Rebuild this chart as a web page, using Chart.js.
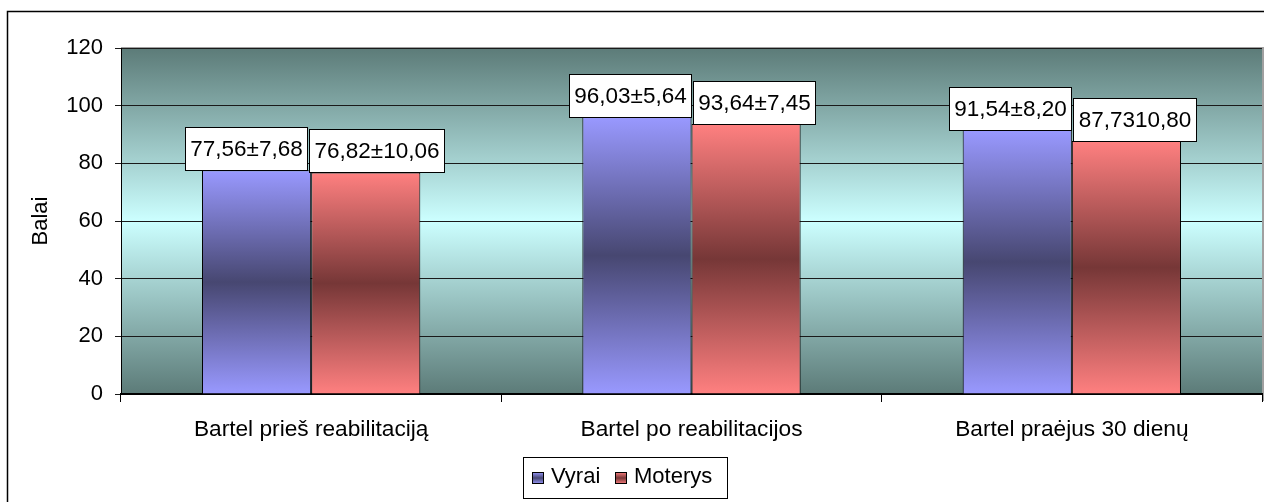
<!DOCTYPE html>
<html>
<head>
<meta charset="utf-8">
<script src="https://cdn.jsdelivr.net/npm/chart.js@4/dist/chart.umd.min.js"></script>
<style>
  html, body { margin: 0; padding: 0; background: #fff; }
  #wrap { width: 1264px; height: 502px; }
</style>
</head>
<body>
<div id="wrap"><canvas id="c" width="1264" height="502"></canvas></div>
<script>
// Barthel index scores (mean and standard deviation) by sex
const categories = ['Bartel prieš reabilitaciją', 'Bartel po reabilitacijos', 'Bartel praėjus 30 dienų'];
const seriesNames = ['Vyrai', 'Moterys'];
const vyraiMean = [77.56, 96.03, 91.54];
const vyraiSd = [7.68, 5.64, 8.20];
const moterysMean = [76.82, 93.64, 87.73];
const moterysSd = [10.06, 7.45, 10.80];
// separator printed between mean and SD in each value label
const vyraiSep = ['±', '±', '±'];
const moterysSep = ['±', '±', ''];
const yTicks = [0, 20, 40, 60, 80, 100, 120];

const FONT = '"Liberation Sans", Arial, sans-serif';
const fmt = v => v.toFixed(2).replace('.', ',');
const vyraiLabels = vyraiMean.map((m, i) => fmt(m) + vyraiSep[i] + fmt(vyraiSd[i]));
const moterysLabels = moterysMean.map((m, i) => fmt(m) + moterysSep[i] + fmt(moterysSd[i]));

// colour stops: [edge, centre] for each series
const palette = [
  { edge: '#9999ff', mid: '#474771' },
  { edge: '#ff8080', mid: '#763737' }
];

function barGradient(ctx, idx) {
  const chart = ctx.chart;
  const y = chart.scales && chart.scales.y;
  if (!y || !chart.chartArea || ctx.raw === undefined) return palette[idx].edge;
  const top = y.getPixelForValue(ctx.raw);
  const base = y.getPixelForValue(0);
  if (!isFinite(top) || !isFinite(base) || base === top) return palette[idx].edge;
  const g = chart.ctx.createLinearGradient(0, top, 0, base);
  g.addColorStop(0, palette[idx].edge);
  g.addColorStop(0.5, palette[idx].mid);
  g.addColorStop(1, palette[idx].edge);
  return g;
}

const framePlugin = {
  id: 'frame',
  beforeDraw(chart) {
    const { ctx, chartArea: a } = chart;
    ctx.save();
    ctx.fillStyle = '#ffffff';
    ctx.fillRect(0, 0, chart.width, chart.height);
    // plot wall with axial gradient
    const g = ctx.createLinearGradient(0, a.top, 0, a.bottom);
    g.addColorStop(0, '#5c7b78');
    g.addColorStop(0.5, '#ccffff');
    g.addColorStop(1, '#5c7b78');
    ctx.fillStyle = g;
    ctx.fillRect(a.left, a.top, a.right - a.left, a.bottom - a.top);
    // wall shadow
    ctx.fillStyle = '#a0a0a0';
    ctx.fillRect(a.left, a.top - 1, a.right - a.left, 1);
    ctx.fillRect(a.right, a.top - 1, 2, a.bottom - a.top + 8);
    ctx.restore();
  },
  afterDraw(chart) {
    const { ctx } = chart;
    ctx.save();
    // outer chart frame
    ctx.strokeStyle = '#000';
    ctx.lineWidth = 1.5;
    ctx.beginPath();
    ctx.moveTo(7.5, chart.height + 2);
    ctx.lineTo(7.5, 11.5);
    ctx.lineTo(chart.width + 2, 11.5);
    ctx.stroke();

    // legend
    const lx = 523.5, ly = 457.5, lw = 204, lh = 41;
    ctx.fillStyle = '#fff';
    ctx.fillRect(lx, ly, lw, lh);
    ctx.strokeStyle = '#000';
    ctx.lineWidth = 1;
    ctx.strokeRect(lx, ly, lw, lh);
    ctx.font = '22px ' + FONT;
    ctx.textBaseline = 'middle';
    ctx.textAlign = 'left';
    const items = [{ x: 532, tx: 551 }, { x: 615, tx: 634 }];
    chart.data.datasets.forEach((ds, i) => {
      const mx = items[i].x, my = 472, ms = 12;
      const mg = ctx.createLinearGradient(0, my, 0, my + ms);
      mg.addColorStop(0, palette[i].edge);
      mg.addColorStop(0.5, palette[i].mid);
      mg.addColorStop(1, palette[i].edge);
      ctx.fillStyle = mg;
      ctx.fillRect(mx, my, ms, ms);
      ctx.strokeStyle = '#000';
      ctx.strokeRect(mx + 0.5, my + 0.5, ms - 1, ms - 1);
      ctx.fillStyle = '#000';
      ctx.fillText(ds.label, items[i].tx, 477);
    });
    ctx.restore();
  }
};

// boxed value labels above the bars; neighbouring boxes are pushed apart
const valueLabelPlugin = {
  id: 'valueLabels',
  afterDatasetsDraw(chart) {
    const { ctx } = chart;
    ctx.save();
    ctx.font = '22.5px ' + FONT;
    ctx.textAlign = 'center';
    ctx.textBaseline = 'middle';
    const h = 43, gap = 2;
    const metas = chart.data.datasets.map((ds, di) => chart.getDatasetMeta(di));
    categories.forEach((cat, i) => {
      const boxes = chart.data.datasets.map((ds, di) => {
        const bar = metas[di].data[i];
        const text = ds.valueLabels[i];
        const w = Math.round(ctx.measureText(text).width) + 10;
        return { text, w, cx: bar.x, cy: bar.y - 22 };
      });
      for (let k = 1; k < boxes.length; k++) {
        const a = boxes[k - 1], b = boxes[k];
        const overlap = (a.cx + a.w / 2 + gap) - (b.cx - b.w / 2);
        if (overlap > 0) { a.cx -= overlap / 2; b.cx += overlap / 2; }
      }
      boxes.forEach(bx => {
        const x0 = Math.round(bx.cx - bx.w / 2) + 0.5, y0 = Math.round(bx.cy - h / 2) + 0.5;
        ctx.fillStyle = '#fff';
        ctx.fillRect(x0, y0, bx.w, h);
        ctx.strokeStyle = '#000';
        ctx.lineWidth = 1;
        ctx.strokeRect(x0, y0, bx.w, h);
        ctx.fillStyle = '#000';
        ctx.fillText(bx.text, x0 + bx.w / 2, y0 + h / 2 + 1);
      });
    });
    ctx.restore();
  }
};

new Chart(document.getElementById('c'), {
  type: 'bar',
  data: {
    labels: categories,
    datasets: [
      {
        label: seriesNames[0],
        data: vyraiMean,
        valueLabels: vyraiLabels,
        backgroundColor: ctx => barGradient(ctx, 0),
        borderColor: '#000',
        borderWidth: 1
      },
      {
        label: seriesNames[1],
        data: moterysMean,
        valueLabels: moterysLabels,
        backgroundColor: ctx => barGradient(ctx, 1),
        borderColor: '#000',
        borderWidth: 1
      }
    ]
  },
  options: {
    responsive: false,
    animation: false,
    devicePixelRatio: 1,
    layout: { padding: { top: 48, right: 2, bottom: 0, left: 0 } },
    datasets: { bar: { categoryPercentage: 0.574, barPercentage: 1.0 } },
    plugins: {
      legend: { display: false },
      tooltip: { enabled: false }
    },
    scales: {
      x: {
        grid: { offset: true, drawOnChartArea: false, drawTicks: true, tickLength: 8, color: '#000', lineWidth: 1 },
        border: { color: '#000', width: 2 },
        ticks: { color: '#000', font: { family: FONT, size: 22.7 }, padding: 14, maxRotation: 0, autoSkip: false },
        afterFit: s => { s.height = 108; }
      },
      y: {
        min: 0,
        max: 120,
        afterBuildTicks: s => { s.ticks = yTicks.map(v => ({ value: v })); },
        grid: { color: '#1a1a1a', lineWidth: 1, tickLength: 6, drawTicks: true },
        border: { color: '#000', width: 1 },
        ticks: { color: '#000', font: { family: FONT, size: 22 }, padding: 12 },
        title: { display: true, text: 'Balai', color: '#000', font: { family: FONT, size: 22 }, padding: { top: 28, bottom: 0 } },
        afterFit: s => { s.width = 121; }
      }
    }
  },
  plugins: [framePlugin, valueLabelPlugin]
});
</script>
</body>
</html>
